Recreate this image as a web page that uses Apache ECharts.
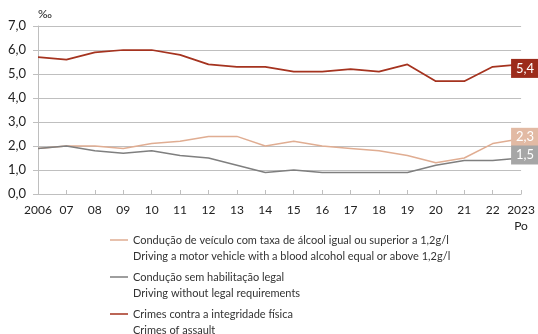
<!DOCTYPE html>
<html>
<head>
<meta charset="utf-8">
<script src="https://cdn.jsdelivr.net/npm/echarts@6/dist/echarts.min.js"></script>
<style>
  html, body { margin: 0; padding: 0; background: #fff; }
  #chart { width: 538px; height: 334px; }
</style>
</head>
<body>
<div id="chart"></div>
<script>
const years = ['2006', '07', '08', '09', '10', '11', '12', '13', '14', '15', '16', '17', '18', '19', '20', '21', '22', '2023\nPo']
const alcohol = [1.9, 2.0, 2.0, 1.9, 2.1, 2.2, 2.4, 2.4, 2.0, 2.2, 2.0, 1.9, 1.8, 1.6, 1.3, 1.5, 2.1, 2.3]
const noLicence = [1.9, 2.0, 1.8, 1.7, 1.8, 1.6, 1.5, 1.2, 0.9, 1.0, 0.9, 0.9, 0.9, 0.9, 1.2, 1.4, 1.4, 1.5]
const assault = [5.7, 5.6, 5.9, 6.0, 6.0, 5.8, 5.4, 5.3, 5.3, 5.1, 5.1, 5.2, 5.1, 5.4, 4.7, 4.7, 5.3, 5.4]
const names = [
  'Condução de veículo com taxa de álcool igual ou superior a 1,2g/l\nDriving a motor vehicle with a blood alcohol equal or above 1,2g/l',
  'Condução sem habilitação legal\nDriving without legal requirements',
  'Crimes contra a integridade física\nCrimes of assault'
]

const font = 'Lato'
// legend icon: thin line near the top of a tall box, so it sits level with the first text line
const legendIcon = 'path://M0,0h0.01v0.01h-0.01z M0,7.3h18v1.5h-18z M17.99,31.99h0.01v0.01h-0.01z'

function fmt(v) { return v.toFixed(1).replace('.', ',') }

function makeSeries(name, data, lineColor, boxColor, width, dy) {
  return {
    name: name,
    type: 'line',
    data: data,
    symbol: 'none',
    color: lineColor,
    lineStyle: { color: lineColor, width: width },
    endLabel: {
      show: true,
      formatter: p => fmt(p.value),
      color: '#fff',
      fontFamily: font,
      fontSize: 13,
      lineHeight: 13,
      backgroundColor: boxColor,
      padding: [3, 5, 3, 5],
      distance: 0,
      offset: [-10, dy]
    }
  }
}

const chart = echarts.init(document.getElementById('chart'))
chart.setOption({
  animation: false,
  grid: { left: 38, right: 15, top: 26, bottom: 140 },
  legend: {
    orient: 'vertical',
    left: 110,
    top: 232,
    height: 120,
    padding: 0,
    itemGap: 5,
    itemWidth: 18,
    itemHeight: 32,
    icon: legendIcon,
    itemStyle: { borderWidth: 0 },
    textStyle: { fontFamily: font, fontSize: 11, lineHeight: 16, color: '#333' },
    data: names
  },
  xAxis: {
    type: 'category',
    data: years,
    boundaryGap: false,
    axisLine: { lineStyle: { color: '#bfbfbf', width: 1 } },
    axisTick: { show: true, inside: true, length: 4, interval: 0, lineStyle: { color: '#bfbfbf' } },
    axisLabel: { interval: 0, margin: 8, fontFamily: font, fontSize: 12, lineHeight: 16, color: '#222' }
  },
  yAxis: {
    type: 'value',
    min: 0,
    max: 7,
    interval: 1,
    name: '‰',
    nameLocation: 'end',
    nameGap: 6,
    nameTextStyle: { fontFamily: font, fontSize: 12, color: '#222', align: 'left' },
    axisLine: { show: true, lineStyle: { color: '#bfbfbf', width: 1 } },
    axisTick: { show: true, length: 5, lineStyle: { color: '#bfbfbf' } },
    axisLabel: { margin: 12, formatter: v => fmt(v), fontFamily: font, fontSize: 13, color: '#222' },
    splitLine: { lineStyle: { color: '#bfbfbf', width: 1 } }
  },
  series: [
    makeSeries(names[0], alcohol, '#e0ad92', '#e2baa4', 1.5, -1.5),
    makeSeries(names[1], noLicence, '#7f7f7f', '#a6a6a6', 1.5, -3),
    makeSeries(names[2], assault, '#a5331f', '#9c2b1b', 1.75, 4)
  ]
})
</script>
</body>
</html>
